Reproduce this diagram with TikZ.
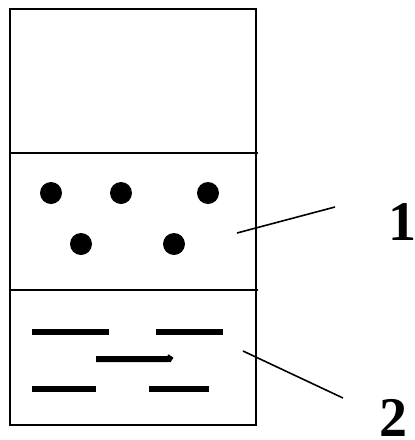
\documentclass[tikz,border=0pt]{standalone}
\usepackage{fontspec}
\setmainfont{Liberation Serif}
\begin{document}
\begin{tikzpicture}[x=1pt,y=-1pt,
  frame/.style={line width=2.6pt},
  particle/.style={circle,fill=black,inner sep=0pt,minimum size=22pt},
  flake/.style={line width=6pt},
  leader/.style={line width=1.6pt},
  tag/.style={font=\bfseries\fontsize{56}{56}\selectfont,inner sep=0pt}]
\useasboundingbox (0,0) rectangle (415,440);
% container and its three layers
\draw[frame] (10,9) rectangle (256,425);
\draw[frame] (10,153) -- (258,153);
\draw[frame] (10,290) -- (258,290);
% particles in the middle layer
\node[particle] (p1) at (51,193) {};
\node[particle] (p2) at (121,193) {};
\node[particle] (p3) at (208,193) {};
\node[particle] (p4) at (81,244) {};
\node[particle] (p5) at (174,244) {};
% flakes in the bottom layer
\draw[flake] (32,332) -- (109,332);
\draw[flake] (156,332) -- (223,332);
\draw[flake] (96,359) -- (169,359) -- (171,356);
\draw[flake] (32,389) -- (96,389);
\draw[flake] (149,389) -- (209,389);
% labels with leader lines
\node[tag] (l1) at (402,222) {1};
\node[tag] (l2) at (393,418) {2};
\coordinate (a1) at (237,233);
\coordinate (b1) at (335,207);
\coordinate (a2) at (243,351);
\coordinate (b2) at (343,398);
\draw[leader] (a1) -- (b1);
\draw[leader] (a2) -- (b2);
\end{tikzpicture}
\end{document}
